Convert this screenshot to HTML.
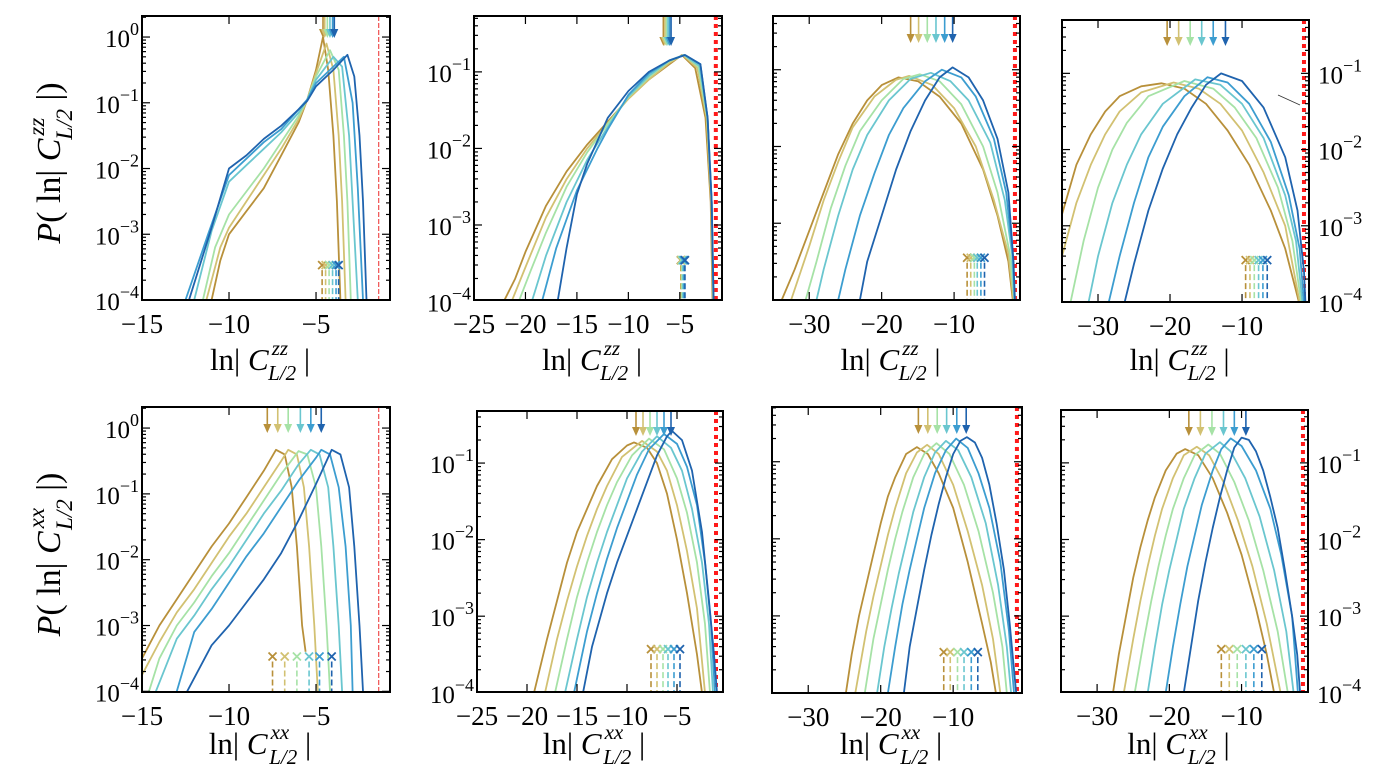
<!DOCTYPE html>
<html><head><meta charset="utf-8"><style>
html,body{margin:0;padding:0;background:#fff;}
svg{display:block;font-family:"Liberation Serif",serif;}
</style></head><body>
<svg id="fig" width="1391" height="775" viewBox="0 0 1391 775" xmlns="http://www.w3.org/2000/svg"></svg>
<script>
// ---------- data (x = ln|C|, y = log10 P) ----------
const seriesColors = ["#b8903a","#d2c172","#a6e2a6","#6ac6cf","#3c9dd0","#1f63ae"];
const seriesNames = ["gold","khaki","green","cyan","midblue","blue"];

const panel1Series = [
 [[-11,-4],[-10.5,-3.4],[-10,-3.0],[-9,-2.65],[-8,-2.3],[-7,-1.8],[-6,-1.3],[-5.5,-0.95],[-5,-0.5],[-4.6,0],[-4.3,-0.5],[-4.0,-1.5],[-3.8,-2.5],[-3.6,-4]],
 [[-11.3,-4],[-10.5,-3.2],[-10,-2.9],[-9,-2.5],[-8,-2.1],[-7,-1.7],[-6,-1.25],[-5.5,-0.95],[-5,-0.55],[-4.4,-0.1],[-4.0,-0.5],[-3.7,-1.5],[-3.5,-2.5],[-3.3,-4]],
 [[-11.5,-4],[-10.8,-3.2],[-10,-2.7],[-9,-2.35],[-8,-2.0],[-7,-1.6],[-6,-1.2],[-5.5,-0.95],[-5,-0.6],[-4.2,-0.2],[-3.7,-0.5],[-3.4,-1.5],[-3.2,-2.5],[-3.0,-4]],
 [[-12,-4],[-11,-2.95],[-10,-2.2],[-9,-1.95],[-8,-1.7],[-7,-1.45],[-6,-1.15],[-5.5,-0.95],[-5,-0.65],[-4,-0.3],[-3.5,-0.45],[-3.1,-1.5],[-2.9,-2.5],[-2.6,-4]],
 [[-12.5,-4],[-11.2,-3.0],[-10,-2.1],[-9,-1.85],[-8,-1.6],[-7,-1.4],[-6,-1.1],[-5.5,-0.95],[-5,-0.7],[-4,-0.45],[-3.4,-0.3],[-2.9,-1.0],[-2.6,-2.3],[-2.3,-4]],
 [[-12.3,-4],[-11,-2.9],[-10,-2.0],[-9,-1.8],[-8,-1.55],[-7,-1.35],[-6,-1.1],[-5.5,-0.97],[-5,-0.75],[-4,-0.5],[-3.2,-0.27],[-2.8,-0.6],[-2.5,-1.5],[-2.3,-2.5],[-2.1,-4]]
];
const panel2Series = [
 [[-22.3,-4.05],[-21,-3.7],[-20,-3.35],[-18,-2.75],[-16,-2.3],[-14,-1.95],[-12,-1.65],[-10,-1.35],[-8,-1.1],[-6,-0.9],[-4.8,-0.78],[-3.5,-0.95],[-2.5,-1.6],[-2,-2.7],[-1.8,-4.1]],
 [[-21.5,-4.05],[-20,-3.55],[-18,-2.9],[-16,-2.4],[-14,-2.0],[-12,-1.67],[-10,-1.35],[-8,-1.1],[-6,-0.88],[-4.7,-0.78],[-3.3,-0.95],[-2.4,-1.6],[-1.95,-2.7],[-1.75,-4.1]],
 [[-20.8,-4.05],[-19.5,-3.6],[-18,-3.1],[-16,-2.5],[-14,-2.05],[-12,-1.68],[-10,-1.33],[-8,-1.07],[-6,-0.86],[-4.6,-0.78],[-3.2,-0.93],[-2.35,-1.6],[-1.9,-2.7],[-1.73,-4.1]],
 [[-19.5,-4.05],[-18,-3.4],[-16,-2.7],[-14,-2.15],[-12,-1.72],[-10,-1.32],[-8,-1.05],[-6,-0.85],[-4.6,-0.78],[-3.1,-0.92],[-2.3,-1.6],[-1.9,-2.7],[-1.72,-4.1]],
 [[-18.5,-4.05],[-17,-3.3],[-15,-2.55],[-13,-2.0],[-12,-1.75],[-10,-1.3],[-8,-1.02],[-6,-0.85],[-4.5,-0.78],[-3,-0.9],[-2.3,-1.6],[-1.9,-2.7],[-1.71,-4.1]],
 [[-17,-4.1],[-16,-3.3],[-15,-2.6],[-14,-2.2],[-13,-1.9],[-12,-1.6],[-10,-1.25],[-8,-1.0],[-6,-0.85],[-4.5,-0.78],[-3,-0.9],[-2.3,-1.6],[-1.9,-2.7],[-1.7,-4.1]]
];
const panel3Series = [
 [[-33.8,-4],[-32,-3.6],[-30,-3.1],[-28,-2.6],[-26,-2.1],[-24,-1.7],[-22,-1.4],[-20,-1.2],[-17.7,-1.1],[-15,-1.15],[-12,-1.35],[-9,-1.7],[-6,-2.3],[-4,-2.9],[-2.5,-3.5],[-1.9,-4]],
 [[-32.5,-4],[-30,-3.3],[-28,-2.7],[-26,-2.2],[-24,-1.75],[-21,-1.35],[-18,-1.13],[-16.2,-1.08],[-13,-1.2],[-10,-1.5],[-7,-2.0],[-4.5,-2.7],[-2.5,-3.4],[-1.8,-4]],
 [[-30.5,-4],[-29,-3.5],[-27,-2.8],[-25,-2.25],[-23,-1.8],[-20,-1.4],[-17,-1.12],[-14.7,-1.06],[-12,-1.15],[-9,-1.45],[-6,-2.0],[-4,-2.6],[-2.3,-3.4],[-1.7,-4]],
 [[-29,-4],[-28,-3.6],[-26,-2.9],[-24,-2.3],[-22,-1.85],[-19,-1.4],[-16,-1.12],[-13.2,-1.04],[-10.5,-1.15],[-8,-1.4],[-5,-1.95],[-3,-2.7],[-2,-3.4],[-1.7,-4]],
 [[-26,-4],[-25,-3.6],[-23,-2.9],[-21,-2.35],[-19,-1.85],[-17,-1.5],[-14,-1.15],[-11.7,-1.0],[-9,-1.1],[-7,-1.35],[-4.5,-1.9],[-2.8,-2.6],[-1.9,-3.4],[-1.6,-4]],
 [[-23,-4],[-22,-3.5],[-20,-2.9],[-18,-2.3],[-16,-1.8],[-14,-1.4],[-12,-1.1],[-10.2,-0.97],[-8,-1.1],[-6,-1.4],[-4,-1.9],[-2.5,-2.6],[-1.8,-3.5],[-1.6,-4]]
];
const panel4Series = [
 [[-35,-2.85],[-33,-2.2],[-31,-1.8],[-29,-1.5],[-27,-1.3],[-24,-1.17],[-21.2,-1.13],[-18,-1.2],[-15,-1.4],[-12,-1.75],[-9,-2.2],[-6,-2.8],[-4,-3.3],[-2.1,-4]],
 [[-35,-3.4],[-33,-2.7],[-31,-2.2],[-29,-1.8],[-27,-1.5],[-24,-1.25],[-19.5,-1.12],[-16,-1.2],[-13,-1.4],[-10,-1.75],[-7,-2.3],[-4,-3.0],[-2,-4]],
 [[-33.8,-4],[-32,-3.2],[-30,-2.5],[-28,-2.0],[-26,-1.65],[-23,-1.3],[-18,-1.1],[-14,-1.2],[-11,-1.45],[-8,-1.85],[-5,-2.5],[-3,-3.2],[-1.8,-4]],
 [[-31.3,-4],[-30,-3.4],[-28,-2.7],[-26,-2.2],[-24,-1.8],[-21,-1.4],[-16.5,-1.08],[-13,-1.15],[-10,-1.4],[-7,-1.85],[-4,-2.6],[-2.5,-3.2],[-1.6,-4]],
 [[-28.5,-4],[-27,-3.4],[-25,-2.7],[-23,-2.1],[-21,-1.7],[-18,-1.3],[-14.8,-1.05],[-12,-1.12],[-9,-1.4],[-6,-1.9],[-3.5,-2.6],[-2,-3.3],[-1.4,-4]],
 [[-26.3,-4],[-25,-3.5],[-23,-2.8],[-21,-2.25],[-19,-1.8],[-17,-1.45],[-15,-1.15],[-12.9,-1.0],[-10,-1.1],[-7,-1.45],[-4,-2.1],[-2.3,-2.8],[-1.4,-3.6],[-1.2,-4]]
];
const panel5Series = [
 [[-15,-3.5],[-14,-3.0],[-13,-2.6],[-12,-2.2],[-11,-1.8],[-10,-1.45],[-9,-1.05],[-8,-0.65],[-7.3,-0.33],[-6.8,-0.4],[-6.4,-0.9],[-6.1,-1.8],[-5.8,-3.0],[-5.6,-3.4]],
 [[-15,-3.75],[-14,-3.25],[-13,-2.8],[-12,-2.45],[-11,-2.05],[-10,-1.65],[-9,-1.3],[-8,-0.9],[-7,-0.5],[-6.6,-0.33],[-6.1,-0.4],[-5.7,-0.9],[-5.4,-1.8],[-5.1,-3.0],[-4.9,-4]],
 [[-14.6,-4],[-14,-3.5],[-13,-3.0],[-12,-2.65],[-11,-2.25],[-10,-1.9],[-9,-1.5],[-8,-1.1],[-7,-0.7],[-6,-0.35],[-5.5,-0.4],[-5.0,-0.9],[-4.7,-1.8],[-4.4,-3.0],[-4.2,-4]],
 [[-14.2,-4],[-13,-3.2],[-12,-2.85],[-11,-2.45],[-10,-2.1],[-9,-1.7],[-8,-1.3],[-7,-0.95],[-6,-0.55],[-5.3,-0.33],[-4.8,-0.4],[-4.3,-0.9],[-4.0,-1.8],[-3.7,-3.0],[-3.5,-4]],
 [[-13,-4],[-12,-3.1],[-11,-2.75],[-10,-2.35],[-9,-1.95],[-8,-1.6],[-7,-1.2],[-6,-0.8],[-5,-0.45],[-4.7,-0.33],[-4.2,-0.4],[-3.7,-0.9],[-3.3,-1.8],[-3.0,-3.0],[-2.9,-4]],
 [[-12.4,-4],[-11,-3.3],[-10,-3.0],[-9,-2.65],[-8,-2.3],[-7,-1.9],[-6,-1.4],[-5,-0.85],[-4.1,-0.33],[-3.6,-0.4],[-3.1,-0.9],[-2.8,-1.8],[-2.5,-3.0],[-2.3,-4]]
];
const panel6Series = [
 [[-19.3,-4],[-18,-3.3],[-17,-2.8],[-16,-2.3],[-15,-1.9],[-14,-1.6],[-13,-1.3],[-11.5,-0.95],[-10,-0.77],[-9.3,-0.73],[-8,-0.8],[-7,-1.0],[-6,-1.4],[-5,-2.0],[-4,-2.7],[-3,-3.5],[-2.5,-4]],
 [[-18.2,-4],[-17,-3.3],[-16,-2.8],[-15,-2.35],[-14,-1.95],[-13,-1.6],[-12,-1.3],[-10.5,-0.92],[-8.5,-0.71],[-7,-0.85],[-6,-1.1],[-5,-1.55],[-4,-2.15],[-3,-2.9],[-2.2,-4]],
 [[-17.2,-4],[-16,-3.3],[-15,-2.75],[-14,-2.3],[-13,-1.9],[-12,-1.55],[-11,-1.25],[-9.5,-0.9],[-7.8,-0.68],[-6.3,-0.82],[-5,-1.2],[-4,-1.65],[-3,-2.3],[-2.2,-3.1],[-1.7,-4]],
 [[-16.2,-4],[-15,-3.3],[-14,-2.75],[-13,-2.3],[-12,-1.9],[-11,-1.55],[-10,-1.2],[-8.5,-0.85],[-7,-0.65],[-5.6,-0.8],[-4.5,-1.1],[-3.5,-1.6],[-2.5,-2.3],[-1.8,-3.1],[-1.4,-4]],
 [[-15.3,-4],[-14,-3.2],[-13,-2.7],[-12,-2.25],[-11,-1.85],[-10,-1.5],[-9,-1.15],[-7.8,-0.82],[-6.3,-0.62],[-5,-0.75],[-4,-1.05],[-3,-1.55],[-2.2,-2.3],[-1.6,-3.1],[-1.2,-4]],
 [[-14.4,-4],[-13.5,-3.4],[-12,-2.7],[-11,-2.3],[-10,-1.95],[-9,-1.6],[-8,-1.25],[-7,-0.9],[-6,-0.65],[-5.5,-0.58],[-4.5,-0.7],[-3.5,-1.1],[-2.5,-1.9],[-1.8,-2.8],[-1.3,-3.5],[-1.0,-4]]
];
const panel7Series = [
 [[-24.8,-4],[-24,-3.5],[-23,-3.0],[-22,-2.6],[-21,-2.2],[-20,-1.8],[-19,-1.45],[-18,-1.2],[-16.5,-0.9],[-15,-0.81],[-13.5,-0.9],[-12,-1.15],[-10,-1.6],[-8,-2.3],[-6,-3.1],[-4.8,-3.6],[-4.1,-4]],
 [[-23.5,-4],[-22,-3.2],[-21,-2.75],[-20,-2.35],[-19,-1.95],[-18,-1.6],[-16.5,-1.15],[-15,-0.88],[-13.6,-0.78],[-12,-0.9],[-10,-1.3],[-8,-1.9],[-6,-2.6],[-4.5,-3.3],[-3.5,-4]],
 [[-22.2,-4],[-21,-3.3],[-20,-2.85],[-19,-2.4],[-18,-2.0],[-17,-1.65],[-15.5,-1.2],[-14,-0.9],[-12.3,-0.76],[-10.5,-0.9],[-8.5,-1.3],[-6.5,-1.9],[-4.5,-2.7],[-3.2,-3.4],[-2.6,-4]],
 [[-20.5,-4],[-19.5,-3.4],[-18.5,-2.9],[-17.5,-2.45],[-16.5,-2.05],[-15.5,-1.65],[-14,-1.2],[-12.5,-0.88],[-11,-0.73],[-9.3,-0.85],[-7.5,-1.2],[-5.5,-1.8],[-3.8,-2.6],[-2.6,-3.4],[-2.0,-4]],
 [[-19,-4],[-18,-3.4],[-17,-2.85],[-16,-2.4],[-15,-2.0],[-14,-1.6],[-12.5,-1.15],[-11,-0.85],[-9.6,-0.70],[-8,-0.82],[-6.5,-1.15],[-5,-1.6],[-3.5,-2.3],[-2.3,-3.2],[-1.6,-4]],
 [[-16.8,-4],[-16,-3.4],[-15,-2.9],[-14,-2.4],[-13,-1.95],[-12,-1.55],[-11,-1.2],[-10,-0.9],[-9,-0.73],[-8.1,-0.68],[-7,-0.75],[-6,-0.95],[-5,-1.3],[-4,-1.8],[-3,-2.4],[-2.2,-3.1],[-1.3,-4]]
];
const panel8Series = [
 [[-27.8,-4],[-27,-3.5],[-26,-3.0],[-25,-2.5],[-24,-2.1],[-23,-1.75],[-22,-1.45],[-20.5,-1.1],[-19,-0.88],[-17.8,-0.82],[-16,-0.9],[-14,-1.2],[-12,-1.65],[-10,-2.2],[-8,-2.9],[-6.5,-3.5],[-5.5,-4]],
 [[-26.3,-4],[-25,-3.3],[-24,-2.8],[-23,-2.35],[-22,-1.95],[-21,-1.6],[-19.5,-1.2],[-18,-0.9],[-16.2,-0.79],[-14.5,-0.9],[-12.5,-1.25],[-10.5,-1.75],[-8.5,-2.35],[-6.5,-3.1],[-4.6,-4]],
 [[-24.8,-4],[-23.5,-3.3],[-22.5,-2.8],[-21.5,-2.35],[-20.5,-1.95],[-19.5,-1.6],[-18,-1.2],[-16.5,-0.9],[-14.6,-0.76],[-13,-0.88],[-11,-1.25],[-9,-1.75],[-7,-2.4],[-5,-3.2],[-3.6,-4]],
 [[-23,-4],[-22,-3.4],[-21,-2.85],[-20,-2.4],[-19,-2.0],[-18,-1.6],[-16.5,-1.2],[-15,-0.88],[-13,-0.73],[-11.5,-0.85],[-9.5,-1.2],[-7.5,-1.7],[-5.5,-2.4],[-3.8,-3.2],[-2.8,-4]],
 [[-20.5,-4],[-19.5,-3.4],[-18.5,-2.85],[-17.5,-2.35],[-16.5,-1.95],[-15.5,-1.55],[-14,-1.1],[-12.8,-0.82],[-11.5,-0.68],[-10,-0.78],[-8,-1.1],[-6,-1.6],[-4.5,-2.2],[-3,-3.0],[-2.2,-4]],
 [[-18,-4],[-17,-3.4],[-16,-2.8],[-15,-2.3],[-14,-1.85],[-13,-1.45],[-12,-1.1],[-11,-0.8],[-10,-0.67],[-9,-0.7],[-8,-0.85],[-7,-1.1],[-6,-1.45],[-5,-1.85],[-4,-2.4],[-3,-3.0],[-2.3,-3.5],[-1.9,-4]]
];
const panelArrows = [
 [-4.6,-4.5,-4.35,-4.2,-4.05,-3.95],
 [-6.6,-6.45,-6.3,-6.15,-6.0,-5.85],
 [-16,-14.9,-13.7,-12.5,-11.3,-10.2],
 [-20.4,-18.8,-17.2,-15.6,-14,-12.3],
 [-7.8,-7.2,-6.6,-5.9,-5.3,-4.7],
 [-9.1,-8.4,-7.7,-7.0,-6.3,-5.6],
 [-14.8,-13.5,-12.2,-10.9,-9.5,-8.2],
 [-17.3,-15.7,-14.1,-12.5,-11,-9.4]
];
const panelCrosses = [
 [-4.65,-4.45,-4.25,-4.05,-3.85,-3.7],
 [-4.9,-4.85,-4.8,-4.7,-4.6,-4.5],
 [-8.2,-7.7,-7.2,-6.8,-6.3,-5.8],
 [-9.5,-8.9,-8.3,-7.7,-7.1,-6.5],
 [-7.5,-6.8,-6.1,-5.4,-4.8,-4.1],
 [-7.6,-7.0,-6.4,-5.9,-5.3,-4.7],
 [-11.3,-10.4,-9.4,-8.5,-7.5,-6.6],
 [-12.8,-11.7,-10.6,-9.4,-8.3,-7.2]
];
const crossLevels = [-3.47,-3.46,-3.45,-3.45,-3.47,-3.43,-3.47,-3.43];
const redLineX = [-1.4,-1.5,-1.6,-1.4,-1.4,-1.1,-1.2,-1.5];
const xTickSets = [[-15,-10,-5],[-25,-20,-15,-10,-5],[-30,-20,-10],[-30,-20,-10],
                   [-15,-10,-5],[-25,-20,-15,-10,-5],[-30,-20,-10],[-30,-20,-10]];
const yTickLabelSets = [[0,-1,-2,-3,-4],[-1,-2,-3,-4],[],[-1,-2,-3,-4],
                        [0,-1,-2,-3,-4],[-1,-2,-3,-4],[],[-1,-2,-3,-4]];
const allSeries = [panel1Series,panel2Series,panel3Series,panel4Series,panel5Series,panel6Series,panel7Series,panel8Series];

// ---------- layout ----------
const layout = [
 {x0:142,x1:390,y0:16,y1:300,xmin:-15,xmax:-0.75,ytop:0.32,ybot:-4.0,thin:true,side:'left',arr:21,sup:'zz',tb:70},
 {x0:474,x1:722,y0:16,y1:300,xmin:-25,xmax:-0.9,ytop:-0.27,ybot:-3.98,thin:false,side:'left',arr:29,sup:'zz',tb:70},
 {x0:773,x1:1020,y0:16,y1:300,xmin:-35,xmax:-0.9,ytop:-0.3,ybot:-4.0,thin:false,side:'none',arr:26,sup:'zz',tb:70},
 {x0:1062,x1:1309,y0:20,y1:302,xmin:-35,xmax:-0.7,ytop:-0.3,ybot:-4.0,thin:false,side:'right',arr:25,sup:'zz',tb:68},
 {x0:142,x1:390,y0:407,y1:692,xmin:-15,xmax:-0.75,ytop:0.32,ybot:-4.01,thin:true,side:'left',arr:25,sup:'xx',tb:62},
 {x0:477,x1:723,y0:411,y1:692,xmin:-25,xmax:-0.4,ytop:-0.32,ybot:-3.99,thin:false,side:'left',arr:24,sup:'xx',tb:62},
 {x0:772,x1:1022,y0:407,y1:693,xmin:-35,xmax:-0.5,ytop:-0.29,ybot:-4.0,thin:false,side:'none',arr:26,sup:'xx',tb:61},
 {x0:1061,x1:1308,y0:410,y1:692,xmin:-35,xmax:-0.8,ytop:-0.31,ybot:-3.99,thin:false,side:'right',arr:25,sup:'xx',tb:62}
];

const NS = "http://www.w3.org/2000/svg";
const svg = document.getElementById('fig');
function mk(tag, attrs, parent){
  const e = document.createElementNS(NS, tag);
  for (const k in attrs) e.setAttribute(k, attrs[k]);
  (parent||svg).appendChild(e);
  return e;
}

layout.forEach((L, pi) => {
  const g = mk('g', {});
  
  
  const sx = v => L.x0 + (v - L.xmin) / (L.xmax - L.xmin) * (L.x1 - L.x0);
  const sy = v => L.y0 + (L.ytop - v) / (L.ytop - L.ybot) * (L.y1 - L.y0);

  const cp = mk('clipPath', {id:'clip'+pi}, g);
  mk('rect', {x:L.x0, y:L.y0, width:L.x1-L.x0, height:L.y1-L.y0}, cp);
  const plot = mk('g', {'clip-path':'url(#clip'+pi+')'}, g);

  const rl = mk('line', {x1:sx(redLineX[pi]), x2:sx(redLineX[pi]), y1:L.y0, y2:L.y1,
    stroke: L.thin ? '#f05050' : '#ff1a1a', 'stroke-width': L.thin ? 1.2 : 4,
    'stroke-dasharray': L.thin ? '5 2' : '4 4'}, plot);
  
  

  allSeries[pi].forEach((s, si) => {
    const d = s.map((p, i) => (i ? 'L' : 'M') + sx(p[0]).toFixed(1) + ' ' + sy(p[1]).toFixed(1)).join(' ');
    const path = mk('path', {d:d, fill:'none', stroke:seriesColors[si], 'stroke-width':1.8, 'stroke-linejoin':'round'}, plot);
    
    
  });

  panelArrows[pi].forEach((xv, si) => {
    const x = sx(xv), c = seriesColors[si];
    const a = mk('g', {}, plot);
    
    
    mk('line', {x1:x, x2:x, y1:L.y0, y2:L.y0 + L.arr - 4, stroke:c, 'stroke-width':1.6}, a);
    mk('polygon', {points:`${x-4},${L.y0+L.arr-8} ${x+4},${L.y0+L.arr-8} ${x},${L.y0+L.arr+1}`, fill:c}, a);
  });

  const cy = sy(crossLevels[pi]);
  panelCrosses[pi].forEach((xv, si) => {
    const x = sx(xv), c = seriesColors[si];
    const m = mk('g', {}, plot);
    
    
    mk('line', {x1:x, x2:x, y1:cy + 5, y2:L.y1, stroke:c, 'stroke-width':1.6, 'stroke-dasharray':'6 3'}, m);
    mk('path', {d:`M${x-4} ${cy-4} L${x+4} ${cy+4} M${x-4} ${cy+4} L${x+4} ${cy-4}`, stroke:c, 'stroke-width':1.8}, m);
  });

  if (pi === 3) {
    const sl = mk('line', {x1:1278, y1:95, x2:1300, y2:105, stroke:'#333', 'stroke-width':0.8}, g);
    
    
  }

  const fr = mk('rect', {x:L.x0, y:L.y0, width:L.x1-L.x0, height:L.y1-L.y0, fill:'none', stroke:'#000', 'stroke-width':2}, g);
  
  

  const tg = mk('g', {stroke:'#000', 'stroke-width':1.2}, g);
  for (let dec = Math.floor(L.ybot) - 1; dec <= Math.ceil(L.ytop); dec++) {
    for (let m = 1; m <= 9; m++) {
      const v = dec + Math.log10(m);
      if (v < L.ybot - 0.001 || v > L.ytop + 0.001) continue;
      const y = sy(v), len = m === 1 ? 8 : 4;
      mk('line', {x1:L.x0, x2:L.x0 + len, y1:y, y2:y}, tg);
      mk('line', {x1:L.x1, x2:L.x1 - len, y1:y, y2:y}, tg);
    }
  }
  xTickSets[pi].forEach(v => {
    const x = sx(v);
    mk('line', {x1:x, x2:x, y1:L.y1, y2:L.y1 - 8}, tg);
    mk('line', {x1:x, x2:x, y1:L.y0, y2:L.y0 + 8}, tg);
    const t = mk('text', {x:x, y:L.y1 + 33, 'text-anchor':'middle', 'font-size':27}, g);
    t.textContent = '\u2212' + Math.abs(v);
    
    
  });
  yTickLabelSets[pi].forEach(e => {
    const y = sy(e);
    const right = L.side === 'right';
    const t = mk('text', {x: right ? L.x1 + 9 : L.x0 - 3, y: y + 10, 'text-anchor': right ? 'start' : 'end', 'font-size':25}, g);
    
    
    const a = mk('tspan', {}, t); a.textContent = '10';
    const b = mk('tspan', {dy:-12, 'font-size':18}, t); b.textContent = e === 0 ? '0' : '\u2212' + Math.abs(e);
  });

  const cx = (L.x0 + L.x1) / 2;
  const base = L.y1 + L.tb;
  const xt = mk('text', {x:cx - 6, y:base, 'text-anchor':'middle', 'font-size':31}, g);
  
  
  const t1 = mk('tspan', {}, xt); t1.textContent = 'ln| ';
  const t2 = mk('tspan', {'font-style':'italic'}, xt); t2.textContent = 'C';
  const t3 = mk('tspan', {'font-style':'italic', 'font-size':21, dy:-15, dx:3}, xt); t3.textContent = L.sup;
  const t4 = mk('tspan', {'font-style':'italic', 'font-size':21, dy:25, dx:-20}, xt); t4.textContent = 'L/2';
  const t5 = mk('tspan', {dy:-10}, xt); t5.textContent = ' |';

  if (pi === 0 || pi === 4) {
    const ycen = (L.y0 + L.y1) / 2 + 5;
    const yt = mk('text', {x:0, y:0, 'text-anchor':'middle', 'font-size':34,
      transform:`translate(60 ${ycen}) rotate(-90)`}, g);
    
    
    const a = mk('tspan', {'font-style':'italic'}, yt); a.textContent = 'P';
    const b = mk('tspan', {}, yt); b.textContent = '( ln| ';
    const c = mk('tspan', {'font-style':'italic'}, yt); c.textContent = 'C';
    const d = mk('tspan', {'font-style':'italic', 'font-size':23, dy:-16, dx:3}, yt); d.textContent = L.sup;
    const e = mk('tspan', {'font-style':'italic', 'font-size':23, dy:28, dx:-22}, yt); e.textContent = 'L/2';
    const f = mk('tspan', {dy:-12}, yt); f.textContent = ' |)';
  }
});
</script>
</body></html>
